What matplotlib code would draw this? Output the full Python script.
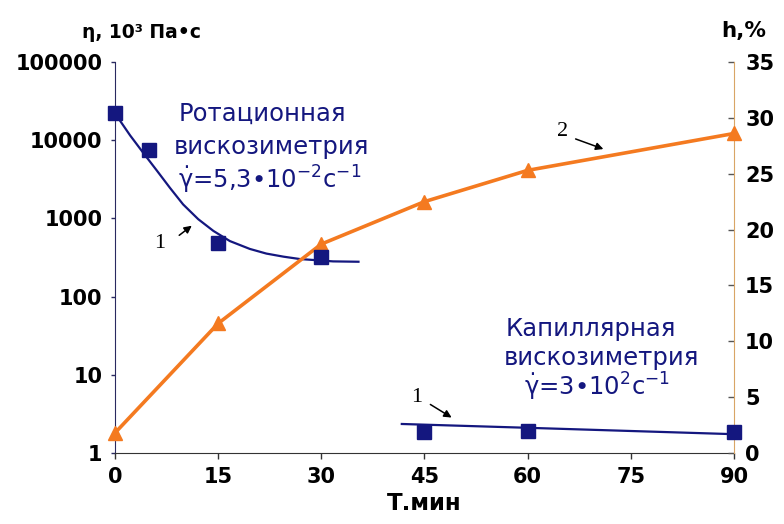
import matplotlib
matplotlib.use("Agg")
import matplotlib.pyplot as plt
from matplotlib.patches import FancyArrowPatch
from matplotlib.ticker import FixedLocator, FixedFormatter, NullLocator

NAVY = "#14177f"
ORANGE = "#f47a20"

rot_t = [0, 5, 15, 30]
rot_eta = [22500, 7600, 480, 324]
rot_curve_t = [0, 2.2, 4.1, 6.1, 8.0, 9.9, 12.1, 14.3, 16.7, 19.6, 22.0, 24.5,
               26.9, 29.3, 31.7, 35.4]
rot_curve_eta = [22000, 11500, 6900, 4070, 2450, 1510, 977, 692, 513, 407, 355, 324,
                 302, 292, 282, 279]

# capillary viscometry
cap_t = [45, 60, 90]
cap_eta = [1.86, 1.9, 1.86]
cap_line_t = [41.7, 60, 90]
cap_line_eta = [2.35, 2.1, 1.74]

# h, %
h_t = [0, 15, 30, 45, 60, 90]
h_val = [1.8, 11.6, 18.7, 22.5, 25.3, 28.6]

x_ticks = [0, 15, 30, 45, 60, 75, 90]
eta_ticks = [1, 10, 100, 1000, 10000, 100000]
eta_labels = ["1", "10", "100", "1000", "10000", "100000"]
h_ticks = [0, 5, 10, 15, 20, 25, 30, 35]

fig = plt.figure(figsize=(7.84, 5.24), dpi=100)
ax = fig.add_axes([0.1467, 0.1355, 0.7895, 0.7462])
ax.set_yscale("log")
ax.set_xlim(0, 90)
ax.set_ylim(1, 100000)
ax2 = ax.twinx()
ax2.set_ylim(0, 35)

ax.plot(rot_curve_t, rot_curve_eta, color=NAVY, lw=1.6, zorder=2)
ax.plot(cap_line_t, cap_line_eta, color=NAVY, lw=1.6, zorder=2)

ax2.plot(h_t, h_val, color=ORANGE, lw=2.6, marker="^", ms=10, clip_on=False, zorder=3)
# squares drawn on top of the orange series, in the eta scale
ax2.plot(rot_t + cap_t, rot_eta + cap_eta, ls="none", marker="s", ms=9.5, color=NAVY,
         transform=ax.transData, clip_on=False, zorder=4)

for a in (ax, ax2):
    a.spines["top"].set_visible(False)
ax.spines["left"].set_color("#2a2a60")
ax.spines["bottom"].set_color("#333333")
ax.spines["right"].set_visible(False)
ax2.spines["left"].set_visible(False)
ax2.spines["bottom"].set_visible(False)
ax2.spines["right"].set_color("#d9a566")

ax.xaxis.set_major_locator(FixedLocator(x_ticks))
ax.yaxis.set_major_locator(FixedLocator(eta_ticks))
ax.yaxis.set_major_formatter(FixedFormatter(eta_labels))
ax.yaxis.set_minor_locator(NullLocator())
ax2.yaxis.set_major_locator(FixedLocator(h_ticks))

ax.tick_params(axis="x", direction="out", length=4, width=1, color="#333333", pad=6)
ax.tick_params(axis="y", direction="out", length=3, width=1, color="#2a2a60", pad=6)
ax2.tick_params(axis="y", direction="in", length=4, width=1, color="#555555", pad=8)
for lab in ax.get_xticklabels() + ax.get_yticklabels() + ax2.get_yticklabels():
    lab.set_fontsize(15)
    lab.set_fontweight("bold")

ax.set_xlabel("Т.мин", fontsize=16.5, fontweight="bold", labelpad=4)
fig.text(0.104, 0.938, "η, 10³ Па•с", fontsize=13.5, fontweight="bold", va="center")
fig.text(0.92, 0.94, "h,%", fontsize=15.5, fontweight="bold", va="center")

txt = dict(color=NAVY, fontsize=17.5, ha="center", va="center")
fig.text(262 / 784, 1 - 114 / 524, "Ротационная", **txt)
fig.text(271 / 784, 1 - 147 / 524, "вискозиметрия", **txt)
fig.text(270 / 784, 1 - 180 / 524, r"$\dot{\mathrm{\gamma}}$=5,3•10$^{-2}$с$^{-1}$", **txt)
fig.text(591 / 784, 1 - 329 / 524, "Капиллярная", **txt)
fig.text(601 / 784, 1 - 358 / 524, "вискозиметрия", **txt)
fig.text(597 / 784, 1 - 387 / 524, r"$\dot{\mathrm{\gamma}}$=3•10$^{2}$с$^{-1}$", **txt)

arrow = dict(arrowstyle="-|>", color="black", lw=1.1, mutation_scale=11)
for label, (lx, ly), (x0, y0), (x1, y1) in [
    ("1", (160, 243), (177, 237), (194, 224)),
    ("2", (563, 132), (573, 138), (606, 150)),
    ("1", (417, 397), (428, 403), (454, 419)),
]:
    fig.text(lx / 784, 1 - ly / 524, label, fontsize=16, family="Liberation Serif",
             ha="center", va="center")
    fig.patches.append(FancyArrowPatch(
        (x0 / 784, 1 - y0 / 524), (x1 / 784, 1 - y1 / 524),
        transform=fig.transFigure, **arrow))

fig.savefig("out.png", dpi=100)
